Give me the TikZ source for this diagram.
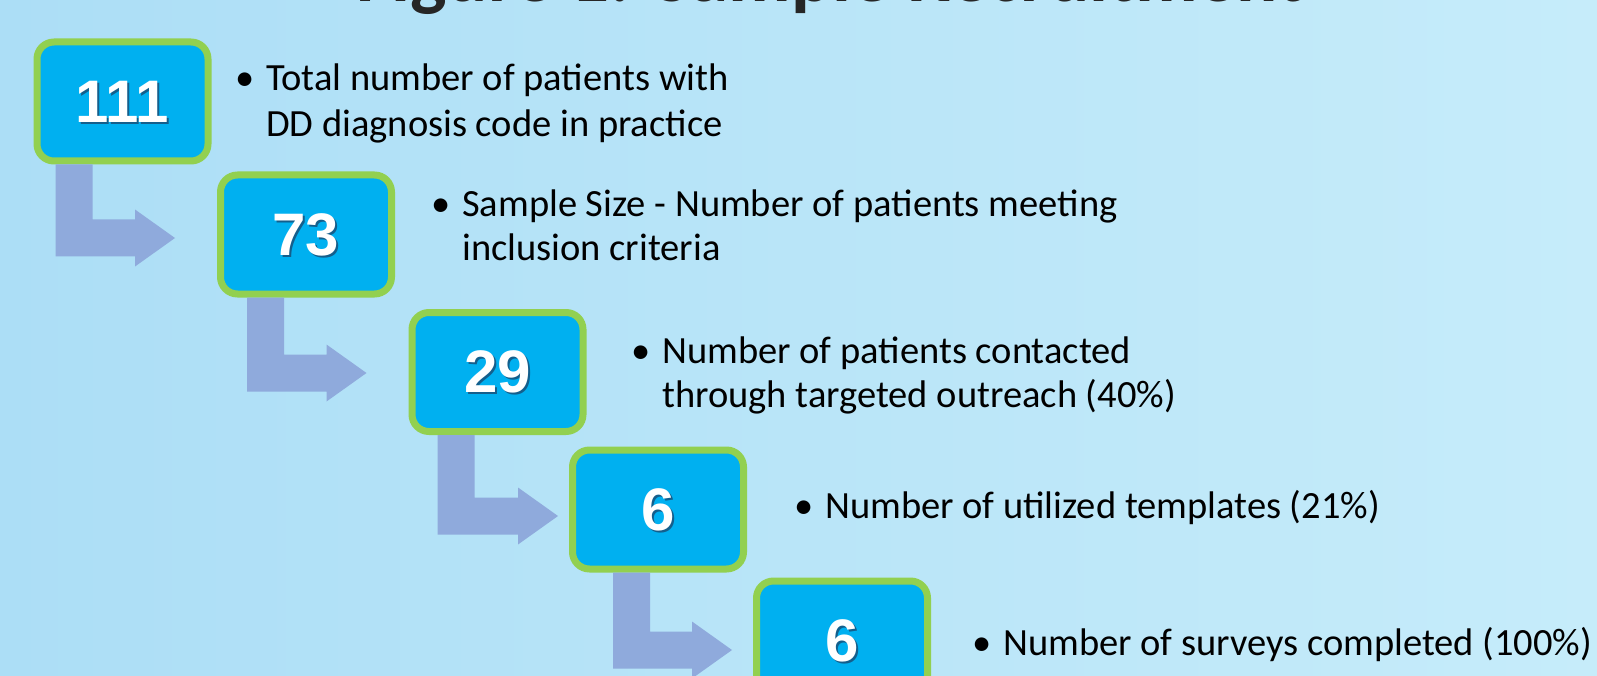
\documentclass[tikz,border=0pt]{standalone}
\usepackage{fontspec}
\setmainfont{Carlito}
\newfontfamily\numfont{Liberation Sans}
\usetikzlibrary{calc}
\definecolor{bgL}{RGB}{172,222,246}
\definecolor{bgR}{RGB}{198,236,250}
\definecolor{boxfill}{RGB}{0,176,240}
\definecolor{boxline}{RGB}{146,208,80}
\definecolor{arrowc}{RGB}{143,170,220}
\definecolor{shadowc}{RGB}{20,95,140}
\definecolor{titlec}{RGB}{38,38,38}

\newcommand\shnum[1]{\makebox[0pt][l]{\smash{\hspace{2pt}\raisebox{-2pt}{\textcolor{shadowc}{#1}}}}#1}

\tikzset{
  numbox/.style={draw=boxline, line width=7pt, fill=boxfill, rounded corners=17pt,
    minimum width=171pt, minimum height=119pt, inner sep=0pt, text=white,
    font=\numfont\bfseries\fontsize{60}{60}\selectfont},
  desc/.style={anchor=base west, inner sep=0pt, font=\fontsize{38.5}{44}\selectfont},
  bul/.style={anchor=base, inner sep=0pt, font=\fontsize{38.5}{44}\selectfont},
  flowarrow/.style={fill=arrowc},
  titletext/.style={anchor=base, inner sep=0pt, text=titlec, font=\bfseries\fontsize{77}{77}\selectfont},
}

\newcommand\bentarrow[2]{%
  \fill[flowarrow] let \p1=(#1), \p2=(#2) in
    (\x1,\y1) -- (\x1+37pt,\y1) -- (\x1+37pt,\y2+18.5pt) -- (\x2-40pt,\y2+18.5pt)
    -- (\x2-40pt,\y2+28.5pt) -- (\x2,\y2) -- (\x2-40pt,\y2-28.5pt)
    -- (\x2-40pt,\y2-18.5pt) -- (\x1,\y2-18.5pt) -- cycle;}

\begin{document}
\begin{tikzpicture}[x=1pt,y=-1pt]
\useasboundingbox (0,0) rectangle (1597,676);
\clip (0,0) rectangle (1597,676);
\shade[left color=bgL, right color=bgR] (0,0) rectangle (1597,676);

\node[titletext] (title) at (830,2) {Figure 1: Sample Recruitment};

% boxes
\node[numbox] (b1) at (122.5,101.5) {\shnum{111}};
\node[numbox] (b2) at (306,234.5) {\shnum{73}};
\node[numbox] (b3) at (497.5,372) {\shnum{29}};
\node[numbox] (b4) at (658,509.5) {\shnum{6}};
\node[numbox] (b5) at (842,640.5) {\shnum{6}};

% arrows
\coordinate (a1s) at ([xshift=22pt]b1.south west);
\coordinate (a1e) at ([xshift=-42pt,yshift=-3.5pt]b2.west);
\coordinate (a2s) at ([xshift=30pt]b2.south west);
\coordinate (a2e) at ([xshift=-42pt,yshift=-1pt]b3.west);
\coordinate (a3s) at ([xshift=29pt]b3.south west);
\coordinate (a3e) at ([xshift=-11pt,yshift=-6.5pt]b4.west);
\coordinate (a4s) at ([xshift=44pt]b4.south west);
\coordinate (a4e) at ([xshift=-21pt,yshift=-9.5pt]b5.west);
\bentarrow{a1s}{a1e}
\bentarrow{a2s}{a2e}
\bentarrow{a3s}{a3e}
\bentarrow{a4s}{a4e}

% descriptions
\node[bul] (d1b) at (245,91) {\textbullet};
\node[desc] (d1a) at (266,91) {Total number of patients with};
\node[desc] (d1c) at (266,137) {DD diagnosis code in practice};

\node[bul] (d2b) at (441,217) {\textbullet};
\node[desc] (d2a) at (462,217) {Sample Size - Number of patients meeting};
\node[desc] (d2c) at (462,261) {inclusion criteria};

\node[bul] (d3b) at (641,363) {\textbullet};
\node[desc] (d3a) at (662,363) {Number of patients contacted};
\node[desc] (d3c) at (662,407) {through targeted outreach (40\%)};

\node[bul] (d4b) at (804,518) {\textbullet};
\node[desc] (d4a) at (825,518) {Number of utilized templates (21\%)};

\node[bul] (d5b) at (982,655) {\textbullet};
\node[desc] (d5a) at (1003,655) {Number of surveys completed (100\%)};
\end{tikzpicture}
\end{document}
